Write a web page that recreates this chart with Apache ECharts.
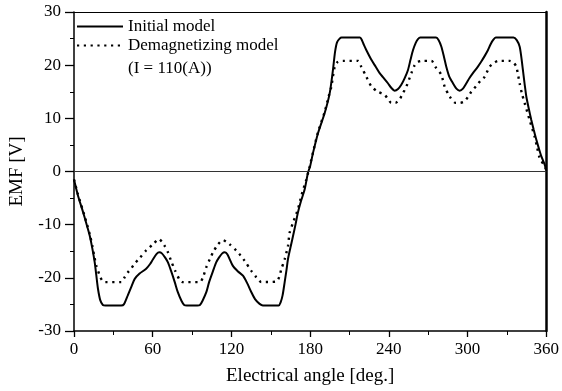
<!DOCTYPE html>
<html>
<head>
<meta charset="utf-8">
<script src="https://cdn.jsdelivr.net/npm/echarts@6/dist/echarts.min.js"></script>
<style>
html,body{margin:0;padding:0;background:#fff;}
#chart{width:562px;height:391px;}
</style>
</head>
<body>
<div id="chart"></div>
<script>
// ---- data ----
const xTickLabels = [0, 60, 120, 180, 240, 300, 360];
const yTickLabels = [-30, -20, -10, 0, 10, 20, 30];

const initialAngle = [0,3,7,10,12,14,15.8,17,18.3,20,22,24,36,38,41,44,46.3,50,55,58,60,63,65,67,69.5,71.6,74,76.8,79,81.9,84,86,94,96,98,101,103,106,108.4,110.5,113,115,117,121,125,128.8,132,135.2,138,141.5,144,156,157.5,159,160.6,162,163.1,165,167,169,170.7,173,175.8,178.4,180,182.2,186,191.1,194.9,197.4,199,200.5,202.5,204,218,219.5,221,222.9,226.7,230,233,236,239.3,242,244.4,247,249.5,252,254.6,256.5,258.4,260.5,262.2,264,276,278,280,282,283.8,286,288.9,291.5,294,296.5,299.1,301.5,304.1,307.5,310.5,313,315.5,317.5,319.4,321.5,335,337.5,339.7,341,342.2,343.5,344.8,346.7,348.6,350.5,352.4,354.3,356.2,358.8,360];
const initialEmf = [-1.5,-4.5,-7.7,-10.3,-12.1,-14.5,-17.1,-19.5,-22.1,-24.2,-25.1,-25.2,-25.2,-25.0,-23.3,-21.5,-20.2,-19.2,-18.3,-17.4,-16.6,-15.5,-15.2,-15.4,-16.2,-17.1,-18.7,-20.8,-22.6,-24.3,-25.1,-25.2,-25.2,-25.1,-24.3,-22.6,-20.8,-18.7,-17.1,-16.2,-15.4,-15.2,-15.6,-17.7,-18.8,-19.6,-21.0,-22.7,-24.0,-24.9,-25.2,-25.2,-24.6,-23.3,-20.8,-18.5,-16.5,-14.3,-12.1,-9.8,-7.7,-5.6,-3.4,-0.2,1.0,3.5,7.2,11.0,14.7,19.1,22.5,24.3,25.0,25.2,25.2,24.7,23.8,22.8,21.0,19.7,18.5,17.6,16.6,15.7,15.2,15.5,16.3,17.5,19.1,21.0,22.8,24.2,24.9,25.2,25.2,24.7,23.5,21.6,19.7,17.9,16.6,15.6,15.2,15.6,16.6,17.6,18.5,19.6,20.7,21.7,22.8,23.9,24.7,25.2,25.2,24.7,23.5,21.5,19.1,16.5,14.1,11.8,9.7,7.8,6.0,4.4,2.9,1.3,0.2];

const demagAngle = [0,3,7,10,12,14,15.5,17,18.5,19.6,21.5,23.6,36,38.6,41,43.7,46,50,55.2,60.2,64.8,67,69.1,71.6,74,77,80.6,83,96,98.3,100.9,103.5,106,109.8,113.6,116,118.7,123.8,127,130.1,135.2,139,142.8,154.3,156.5,158,160.6,163.1,164.4,167,170.7,173.3,177.1,179.7,182.2,186,191.1,194,196.2,198.7,201,205,216.5,219,222.9,226.7,231.7,236.8,239.5,241.9,245,248.2,250.5,253.4,257.2,259.7,262,264.8,272.4,276,280,282.5,286.4,291,294,297.8,300.5,302.9,307,310,313,316.8,320,323.2,332.1,335,337.2,339.7,341.5,343.5,347.3,351.1,353,354.9,358.8,360];
const demagEmf = [-1.5,-4.3,-7.5,-10.0,-11.8,-14.0,-16.0,-17.7,-18.8,-19.6,-20.5,-20.8,-20.8,-19.9,-19.0,-18.2,-17.4,-16.3,-14.8,-13.7,-12.7,-13.2,-14.0,-15.2,-16.8,-18.6,-20.4,-20.8,-20.8,-19.9,-18.0,-16.5,-15.2,-13.7,-12.9,-13.2,-13.7,-14.9,-15.8,-16.8,-18.7,-19.9,-20.8,-20.7,-19.8,-18.4,-16.5,-14.0,-11.5,-9.6,-7.1,-4.6,-1.5,1.0,3.6,7.4,11.2,14.0,16.0,19.7,20.6,20.8,20.8,19.7,17.8,16.0,15.0,14.4,13.6,12.9,12.9,13.6,14.6,16.0,18.5,20.0,20.6,20.8,20.8,19.5,18.2,16.0,14.1,12.9,12.9,13.2,14.1,15.0,16.2,17.1,17.8,19.7,20.4,20.8,20.8,20.5,19.7,16.6,14.6,12.9,9.7,6.6,4.6,2.6,1.0,0.3];

const seriesNames = ['Initial model', 'Demagnetizing model'];
const legendNote = '(I = 110(A))';
const xName = 'Electrical angle [deg.]';
const yName = 'EMF [V]';

// ---- chart ----
const FONT = '"Liberation Serif", "Times New Roman", serif';
const pair = (xs, ys) => xs.map((x, i) => [x, ys[i]]);

const chart = echarts.init(document.getElementById('chart'), null, {renderer: 'canvas'});
chart.setOption({
  animation: false,
  backgroundColor: '#fff',
  grid: {left: 74, right: 15, top: 12, bottom: 58, containLabel: false},
  legend: {
    data: seriesNames,
    orient: 'vertical',
    left: 76, top: 18,
    itemWidth: 46, itemHeight: 12, itemGap: 2,
    padding: 0,
    itemStyle: {opacity: 0},
    textStyle: {fontFamily: FONT, fontSize: 17, color: '#000'},
    selectedMode: false
  },
  graphic: [{
    type: 'text', left: 128, top: 60,
    style: {text: legendNote, font: '17px ' + FONT, fill: '#000'}
  }],
  xAxis: [{
    type: 'value', position: 'bottom', min: 0, max: 360, interval: 60,
    name: xName, nameLocation: 'middle', nameGap: 36,
    nameTextStyle: {fontFamily: FONT, fontSize: 19, color: '#000'},
    axisLine: {show: true, onZero: false, lineStyle: {color: '#000', width: 1.5}},
    axisTick: {show: true, inside: false, length: 6, lineStyle: {color: '#000', width: 1.3}},
    minorTick: {show: true, splitNumber: 2, length: 4, lineStyle: {color: '#000', width: 1}},
    axisLabel: {fontFamily: FONT, fontSize: 17, color: '#000', margin: 10,
      formatter: v => xTickLabels.includes(v) ? String(v) : ''},
    splitLine: {show: false}
  }, {
    type: 'value', position: 'top', min: 0, max: 360,
    axisLine: {show: true, onZero: false, lineStyle: {color: '#000', width: 1}},
    axisTick: {show: false}, axisLabel: {show: false}, splitLine: {show: false}
  }],
  yAxis: [{
    type: 'value', position: 'left', min: -30, max: 30, interval: 10,
    name: yName, nameLocation: 'middle', nameGap: 47, nameRotate: 90,
    nameTextStyle: {fontFamily: FONT, fontSize: 19, color: '#000'},
    axisLine: {show: true, onZero: false, lineStyle: {color: '#000', width: 1.5}},
    axisTick: {show: true, inside: false, length: 9, lineStyle: {color: '#000', width: 1.3}},
    minorTick: {show: true, splitNumber: 2, length: 4, lineStyle: {color: '#000', width: 1}},
    axisLabel: {fontFamily: FONT, fontSize: 17, color: '#000', margin: 13,
      formatter: v => yTickLabels.includes(v) ? String(v) : ''},
    splitLine: {show: false}
  }, {
    type: 'value', position: 'right', min: -30, max: 30,
    axisLine: {show: true, onZero: false, lineStyle: {color: '#000', width: 2.5}},
    axisTick: {show: false}, axisLabel: {show: false}, splitLine: {show: false}
  }],
  series: [{
    name: seriesNames[0], type: 'line', xAxisIndex: 0, yAxisIndex: 0,
    data: pair(initialAngle, initialEmf),
    symbol: 'none', smooth: 0.25,
    lineStyle: {color: '#000', width: 2},
    itemStyle: {color: '#000'},
    markLine: {
      silent: true, symbol: ['none', 'none'], label: {show: false},
      lineStyle: {color: '#333', width: 1, type: 'solid'},
      data: [{yAxis: 0}]
    },
    z: 3
  }, {
    name: seriesNames[1], type: 'line', xAxisIndex: 0, yAxisIndex: 0,
    data: pair(demagAngle, demagEmf),
    symbol: 'none', smooth: 0.25,
    lineStyle: {color: '#000', width: 2.4, type: [2.2, 4.6], cap: 'butt'},
    itemStyle: {color: '#000'},
    z: 2
  }]
});
</script>
</body>
</html>
